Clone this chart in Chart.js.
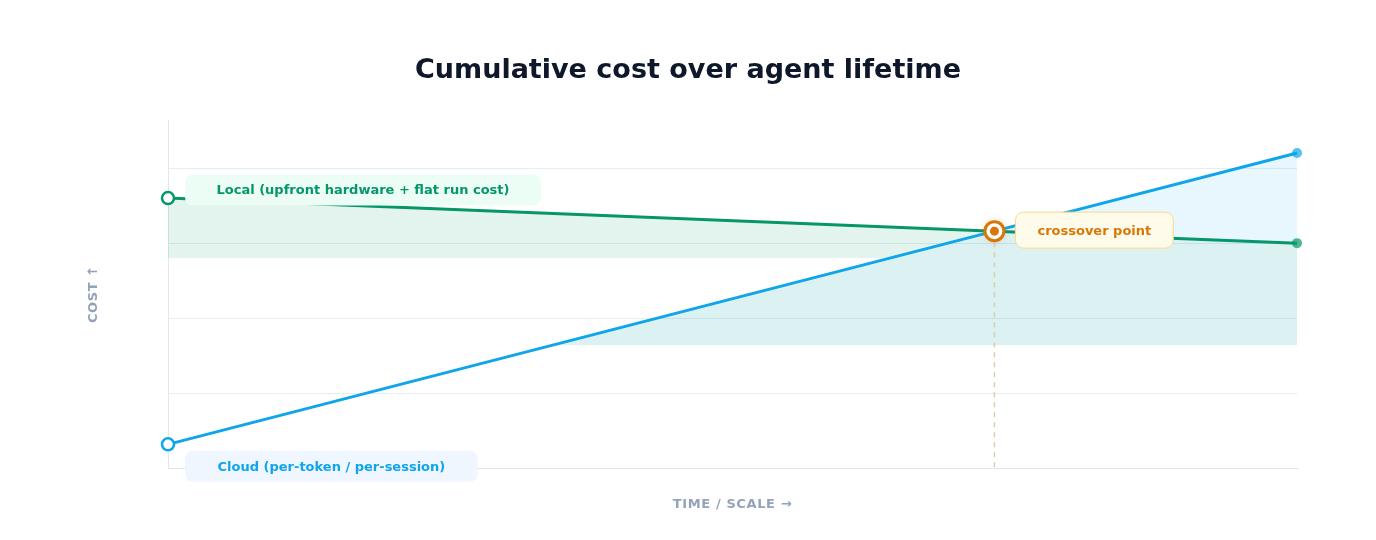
<!DOCTYPE html>
<html>
<head>
<meta charset="utf-8">
<script src="https://cdn.jsdelivr.net/npm/chart.js@4.4.1/dist/chart.umd.min.js"></script>
<style>
  html, body { margin: 0; background: #fff; }
  #wrap { width: 1376px; height: 540px; }
</style>
</head>
<body>
<div id="wrap"><canvas id="cost-chart"></canvas></div>
<script>
// values (arbitrary cost units, time 0..100)
const timePoints = [0, 73.2, 100];
const cloudCost = [8, 79, 105];
const localCost = [90, 79, 75];
const yTicks = [0, 25, 50, 75, 100];
const crossover = { x: 73.2, y: 79 };

const CLOUD = '#0ea5e9';
const LOCAL = '#059669';
const AMBER = '#d97706';

Chart.defaults.font.family = '"DejaVu Sans", "Noto Sans", sans-serif';

// fill colour that stops hard at a given value on the y scale
function cutFill(context, color, cutValue) {
  const chart = context.chart;
  const area = chart.chartArea;
  if (!area) return color;
  const py = chart.scales.y.getPixelForValue(cutValue);
  const t = Math.min(1, Math.max(0, (py - area.top) / (area.bottom - area.top)));
  const g = chart.ctx.createLinearGradient(0, area.top, 0, area.bottom);
  g.addColorStop(0, color);
  g.addColorStop(t, color);
  g.addColorStop(Math.min(1, t + 0.001), 'rgba(255,255,255,0)');
  g.addColorStop(1, 'rgba(255,255,255,0)');
  return g;
}

function tag(ctx, text, left, cy, o) {
  ctx.font = 'bold 13px "DejaVu Sans"';
  const w = ctx.measureText(text).width + o.padX * 2;
  ctx.beginPath();
  ctx.roundRect(left, cy - o.h / 2, w, o.h, 8);
  ctx.fillStyle = o.bg;
  ctx.fill();
  if (o.border) {
    ctx.strokeStyle = o.border;
    ctx.lineWidth = 1;
    ctx.stroke();
  }
  ctx.fillStyle = o.color;
  ctx.textAlign = 'center';
  ctx.textBaseline = 'middle';
  ctx.fillText(text, left + w / 2, cy + 1);
}

// spaced-out axis titles; the main title keeps normal spacing
const spacing = {
  id: 'spacing',
  beforeDraw(chart) {
    const tb = chart.titleBlock;
    if (tb && !tb._plain) {
      const draw = tb.draw.bind(tb);
      tb.draw = (...args) => {
        const prev = chart.ctx.letterSpacing;
        chart.ctx.letterSpacing = '0px';
        draw(...args);
        chart.ctx.letterSpacing = prev;
      };
      tb._plain = true;
    }
    chart.ctx.letterSpacing = '0.6px';
  },
  beforeDatasetsDraw(chart) {
    chart.ctx.letterSpacing = '0px';
  },
};

const overlay = {
  id: 'overlay',
  afterDatasetsDraw(chart) {
    const { ctx, chartArea } = chart;
    const x = chart.scales.x, y = chart.scales.y;
    const cx = x.getPixelForValue(crossover.x);
    const cy = y.getPixelForValue(crossover.y);

    ctx.save();
    ctx.letterSpacing = '0px';
    // drop line from the crossover
    ctx.strokeStyle = '#dccdaa';
    ctx.lineWidth = 1.5;
    ctx.setLineDash([5, 5]);
    ctx.beginPath();
    ctx.moveTo(cx, cy + 11);
    ctx.lineTo(cx, chartArea.bottom);
    ctx.stroke();
    ctx.setLineDash([]);

    // crossover marker
    ctx.shadowColor = 'rgba(217,119,6,0.35)';
    ctx.shadowBlur = 8;
    ctx.beginPath();
    ctx.arc(cx, cy, 9.5, 0, Math.PI * 2);
    ctx.fillStyle = '#fff';
    ctx.fill();
    ctx.shadowBlur = 0;
    ctx.lineWidth = 3;
    ctx.strokeStyle = AMBER;
    ctx.stroke();
    ctx.beginPath();
    ctx.arc(cx, cy, 4.5, 0, Math.PI * 2);
    ctx.fillStyle = AMBER;
    ctx.fill();

    // series tags next to their start points
    const lx = x.getPixelForValue(timePoints[0]);
    tag(ctx, 'Local (upfront hardware + flat run cost)', lx + 17, y.getPixelForValue(localCost[0]) - 8,
      { padX: 31.5, h: 31, bg: '#ecfdf5', color: LOCAL });
    tag(ctx, 'Cloud (per-token / per-session)', lx + 17, y.getPixelForValue(cloudCost[0]) + 22,
      { padX: 32.5, h: 31, bg: '#eff6ff', color: CLOUD });
    tag(ctx, 'crossover point', cx + 21, cy - 1,
      { padX: 22, h: 36, bg: '#fffbeb', border: '#fcd98a', color: AMBER });
    ctx.restore();
  }
};

new Chart(document.getElementById('cost-chart'), {
  type: 'line',
  data: {
    datasets: [
      {
        label: 'Cloud (per-token / per-session)',
        data: timePoints.map((t, i) => ({ x: t, y: cloudCost[i] })),
        borderColor: CLOUD,
        borderWidth: 3,
        backgroundColor: (c) => cutFill(c, 'rgba(5,150,105,0.11)', 70),
        fill: { target: 1, above: 'rgba(14,165,233,0.095)' },
        pointRadius: [6, 0, 5],
        pointBorderWidth: [2.5, 0, 0],
        pointBackgroundColor: ['#fff', 'rgba(0,0,0,0)', 'rgba(14,165,233,0.7)'],
        pointBorderColor: [CLOUD, 'rgba(0,0,0,0)', 'rgba(0,0,0,0)'],
        clip: false,
      },
      {
        label: 'Local (upfront hardware + flat run cost)',
        data: timePoints.map((t, i) => ({ x: t, y: localCost[i] })),
        borderColor: LOCAL,
        borderWidth: 3,
        fill: false,
        pointRadius: [6, 0, 5],
        pointBorderWidth: [2.5, 0, 0],
        pointBackgroundColor: ['#fff', 'rgba(0,0,0,0)', 'rgba(5,150,105,0.7)'],
        pointBorderColor: [LOCAL, 'rgba(0,0,0,0)', 'rgba(0,0,0,0)'],
        clip: false,
      },
      {
        // lower of the two curves, only used for the shaded band under them
        label: 'floor',
        data: timePoints.map((t, i) => ({ x: t, y: Math.min(cloudCost[i], localCost[i]) })),
        borderColor: 'rgba(0,0,0,0)',
        borderWidth: 0,
        pointRadius: 0,
        backgroundColor: (c) => cutFill(c, 'rgba(20,160,170,0.15)', 41),
        fill: 'origin',
      },
    ],
  },
  options: {
    responsive: true,
    maintainAspectRatio: false,
    animation: false,
    events: [],
    layout: { padding: { left: 79, right: 79, top: 0, bottom: 0 } },
    plugins: {
      legend: { display: false },
      tooltip: { enabled: false },
      filler: { drawTime: 'beforeDatasetsDraw' },
      title: {
        display: true,
        text: 'Cumulative cost over agent lifetime',
        color: '#0f172a',
        font: { size: 27, weight: 'bold' },
        padding: { top: 55, bottom: 32.6 },
      },
    },
    scales: {
      x: {
        type: 'linear',
        min: 0,
        max: 100,
        ticks: { display: false },
        grid: { display: false, drawTicks: false },
        border: { color: '#dbe3ec' },
        title: {
          display: true,
          text: 'TIME / SCALE →',
          color: '#94a3b8',
          font: { size: 13, weight: 'bold' },
          padding: { top: 28, bottom: 28 },
        },
      },
      y: {
        min: 0,
        max: 116,
        ticks: { display: false },
        afterBuildTicks: (s) => { s.ticks = yTicks.map(v => ({ value: v })); },
        grid: { color: '#e3edf2', drawTicks: false },
        border: { color: '#e2e8f0' },
        title: {
          display: true,
          text: 'COST ↑',
          color: '#94a3b8',
          font: { size: 13, weight: 'bold' },
          padding: { top: 7.2, bottom: 66.2 },
        },
      },
    },
  },
  plugins: [spacing, overlay],
});
</script>
</body>
</html>
